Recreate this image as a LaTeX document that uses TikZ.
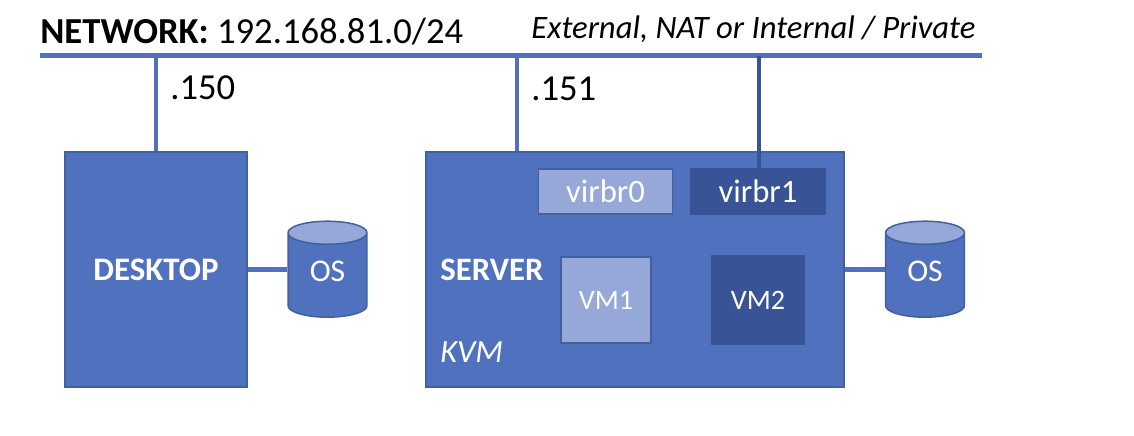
\documentclass[tikz,border=0pt]{standalone}
\usepackage{fontspec}
\setmainfont{Carlito}
\usetikzlibrary{shapes.geometric}
\definecolor{midblue}{HTML}{4F71BE}
\definecolor{lightblue}{HTML}{95A8D8}
\definecolor{darkblue}{HTML}{385496}
\definecolor{edgeblue}{HTML}{41609F}
\tikzset{
  box/.style={rectangle, draw=edgeblue, line width=0.03cm, fill=midblue, text=white, inner sep=0pt},
  lightbox/.style={box, fill=lightblue},
  darkbox/.style={box, fill=darkblue, draw=darkblue},
  disk/.style={cylinder, shape border rotate=90, aspect=0.65, draw=edgeblue, line width=0.03cm,
    cylinder uses custom fill, cylinder body fill=midblue, cylinder end fill=lightblue, anchor=shape center,
    text=white, inner sep=0pt, minimum width=1.58cm, minimum height=1.92cm, font=\fontsize{18}{22}\selectfont},
  label/.style={anchor=west, inner sep=0pt, font=\fontsize{20.85}{25}\selectfont},
  whitelabel/.style={label, text=white},
  smalltext/.style={font=\fontsize{18.6}{22}\selectfont},
  link/.style={draw=midblue, line width=0.09cm},
  linkdark/.style={draw=darkblue, line width=0.09cm}
}
\begin{document}
\begin{tikzpicture}[x=0.02cm,y=-0.02cm]
\useasboundingbox (0,0) rectangle (1134,436);
% bus
\coordinate (busL) at (40,55.5);
\coordinate (busR) at (982,55.5);
\coordinate (tapA) at (156,55.5);
\coordinate (tapB) at (517,55.5);
\coordinate (tapC) at (759,55.5);
% boites
\node (desktop) at (156,269.5) [box, minimum width=3.64cm, minimum height=4.7cm, font=\fontsize{18.7}{22}\selectfont\bfseries] {DESKTOP};
\node (server) at (635,269.5) [box, minimum width=8.36cm, minimum height=4.7cm] {};
\node (virbr0) at (605.5,191.5) [lightbox, minimum width=2.68cm, minimum height=0.9cm, smalltext] {virbr0};
\node (virbr1) at (758,191.5) [darkbox, minimum width=2.68cm, minimum height=0.9cm, smalltext] {virbr1};
\node (vm1) at (606,300) [lightbox, minimum width=1.8cm, minimum height=1.72cm, font=\fontsize{16}{19}\selectfont] {VM1};
\node (vm2) at (758,300) [darkbox, minimum width=1.84cm, minimum height=1.76cm, font=\fontsize{16}{19}\selectfont] {VM2};
\node (osA) at (327.5,269.2) [disk] {\raisebox{0.16cm}{OS}};
\node (osB) at (925,269.2) [disk] {\raisebox{0.16cm}{OS}};
% textes
\node (network) at (40,32) [label] {\textbf{NETWORK:} 192.168.81.0/24};
\node (kind) at (531,29) [label, font=\fontsize{18.6}{22}\selectfont\itshape] {External, NAT or Internal / Private};
\node (ipA) at (170,88) [label] {.150};
\node (ipB) at (531,89) [label] {.151};
\node (srvname) at (440,270) [whitelabel, font=\fontsize{18.6}{22}\selectfont\bfseries] {SERVER};
\node (srvkvm) at (440,352) [whitelabel, font=\fontsize{18.4}{22}\selectfont\itshape] {KVM};
% liens
\draw[link, line width=0.12cm] (busL) -- (busR);
\draw[link] (tapA) -- (desktop.north);
\draw[link] (tapB) -- (tapB |- server.north);
\draw[linkdark] (tapC) -- (tapC |- virbr1.north);
\draw[link] (desktop.east) -- (desktop.east -| osA.west);
\draw[link] (server.east) -- (server.east -| osB.west);
\end{tikzpicture}
\end{document}
